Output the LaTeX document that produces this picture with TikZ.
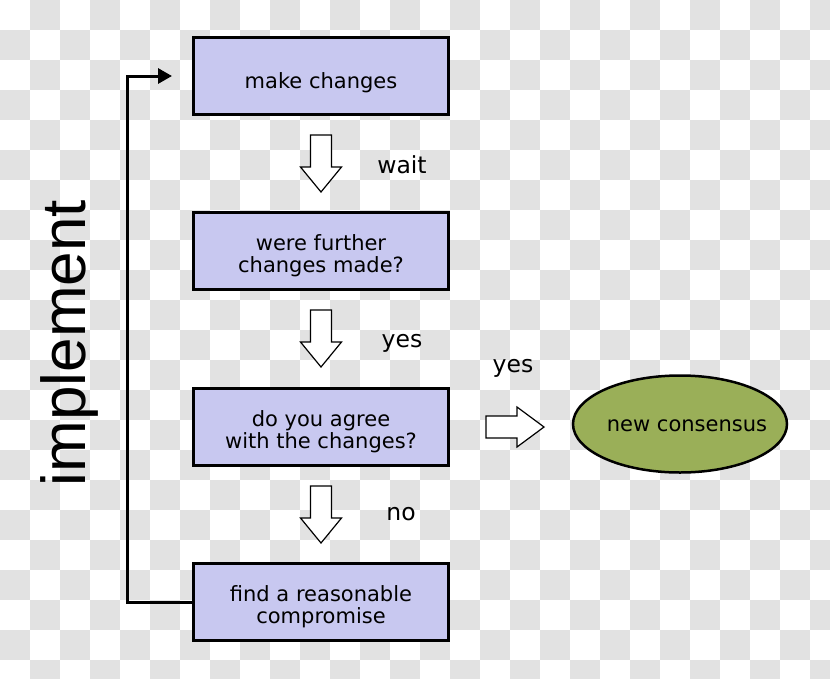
\documentclass[tikz,border=0pt]{standalone}
\usepackage{fontspec}
\setmainfont{DejaVu Sans}
\newfontfamily\implfont{Liberation Sans}
\usetikzlibrary{shapes.geometric,arrows.meta}
\definecolor{boxfill}{HTML}{C8C8F0}
\definecolor{ellfill}{HTML}{9AAF58}
\definecolor{checkgray}{HTML}{E2E2E2}
\tikzset{
  stepbox/.style={draw=black, line width=3pt, fill=boxfill, minimum width=255pt, minimum height=77pt,
    inner sep=0pt},
  boxtext/.style={align=center, inner sep=0pt, font=\fontsize{21}{22}\selectfont},
  resultell/.style={ellipse, draw=black, line width=2.5pt, fill=ellfill, minimum width=214pt,
    minimum height=97pt, inner sep=0pt},
  lbl/.style={font=\fontsize{23.5}{24}\selectfont, inner sep=0pt},
  blockarrow/.style={draw=black, line width=1.2pt, fill=white, line join=miter},
  loopline/.style={line width=3pt, -{Triangle[length=14pt,width=15pt]}}
}
\begin{document}
\begin{tikzpicture}[x=1pt,y=-1pt]
\useasboundingbox (0,0) rectangle (830,678);
% transparency checkerboard
\begin{scope}
\clip (0,0) rectangle (830,678);
\fill[white] (0,0) rectangle (830,678);
\foreach \i in {0,...,27}{
  \foreach \j in {0,...,22}{
    \pgfmathtruncatemacro\s{\i+\j}
    \ifodd\s
      \fill[checkgray] (\i*30,\j*30) rectangle ++(30,30);
    \fi
  }
}
\end{scope}
% boxes
\node[stepbox] (b1) at (321,76) {};
\node[stepbox] (b2) at (321,251) {};
\node[stepbox] (b3) at (321,427) {};
\node[stepbox] (b4) at (321,602) {};
\node[boxtext] (t1) at ([yshift=-7pt]b1.center) {make changes};
\node[boxtext] (t2) at ([yshift=-5pt]b2.center) {were further\\changes made?};
\node[boxtext] (t3) at ([yshift=-5pt]b3.center) {do you agree\\with the changes?};
\node[boxtext] (t4) at ([yshift=-5pt]b4.center) {find a reasonable\\compromise};
\node[resultell] (ell) at (680,424) {};
\node[boxtext] (te) at ([shift={(7pt,-2pt)}]ell.center) {new consensus};
% down block arrows
\foreach \a in {b1,b2,b3}{
  \draw[blockarrow] ([yshift=-19pt]\a.south) ++(-10.5,0) -- ++(0,32) -- ++(-10,0) -- ++(20.5,25)
     -- ++(20.5,-25) -- ++(-10,0) -- ++(0,-32) -- cycle;
}
% right block arrow
\coordinate (ra) at (486,427);
\draw[blockarrow] (ra) ++(0,-11) -- ++(31,0) -- ++(0,-9) -- ++(27,20) -- ++(-27,20) -- ++(0,-9) -- ++(-31,0) -- cycle;
% labels
\node[lbl] (lwait) at (402,165) {wait};
\node[lbl] (lyes1) at (402,343) {yes};
\node[lbl] (lno) at (401,514) {no};
\node[lbl] (lyes2) at (513,368) {yes};
% loop connector
\coordinate (lt) at ([xshift=-20pt]b1.west);
\draw[loopline] (b4.west) -- ++(-65,0) |- (lt);
% implement
\node[rotate=90, anchor=base, inner sep=0pt, font=\implfont\fontsize{62}{62}\selectfont] (impl) at (85,343) {implement};
\end{tikzpicture}
\end{document}
